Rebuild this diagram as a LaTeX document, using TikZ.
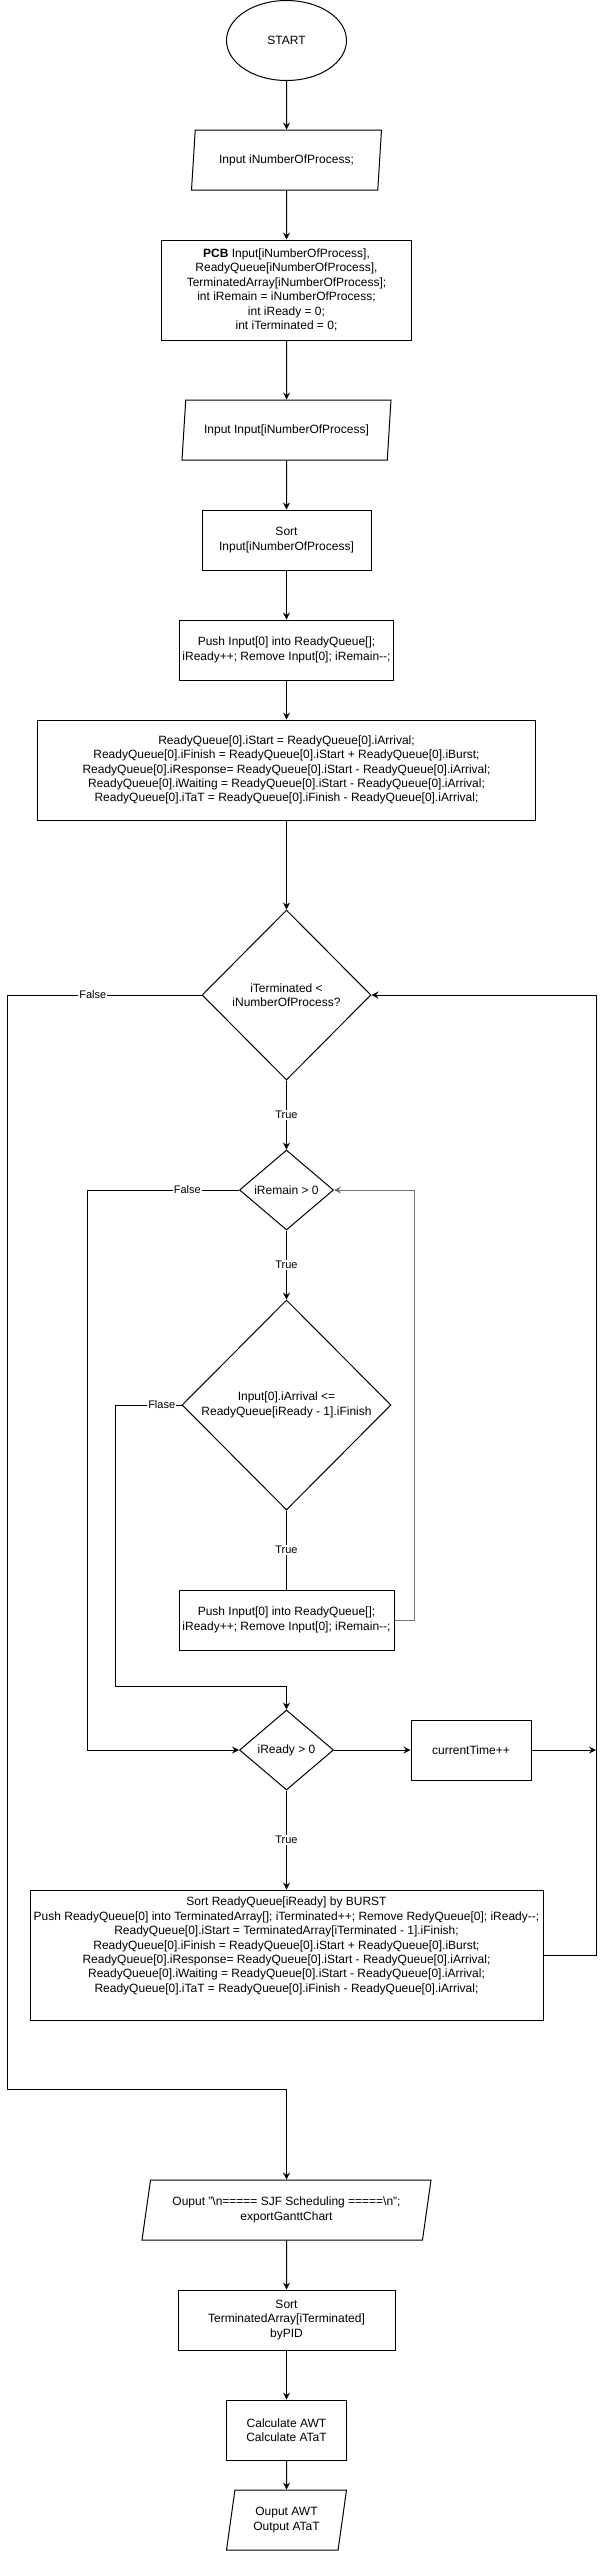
\documentclass[tikz,border=0pt]{standalone}
\usepackage{fontspec}
\setmainfont{Liberation Sans}
\usetikzlibrary{shapes.geometric,arrows.meta}

\tikzset{
  base/.style={draw, line width=1pt, align=center, inner sep=0pt, font=\fontsize{12}{14.4}\selectfont},
  proc/.style={base, rectangle},
  io/.style={base, trapezium, trapezium left angle=71.57, trapezium right angle=108.43,
    trapezium stretches body, minimum height=60pt},
  decision/.style={base, diamond},
  terminal/.style={base, ellipse},
  flow/.style={line width=1pt, -{Stealth[length=7pt,width=7pt,inset=2.5pt]}},
  plain/.style={line width=1pt},
  lbl/.style={fill=white, inner sep=1pt, font=\fontsize{11}{13}\selectfont}
}

\begin{document}
\begin{tikzpicture}[x=1pt,y=-1pt]
        \useasboundingbox (0,0) rectangle (606,2551);

        % Setup
        \node[terminal, minimum width=120pt, minimum height=80pt] (start) at (286.5,40.5) {START};
        \node[io, minimum width=190pt] (inN) at (286.5,160) {Input iNumberOfProcess;};
        \node[proc, minimum width=250pt, minimum height=100pt] (pcb) at (286.5,290)
          {\textbf{PCB} Input[iNumberOfProcess],\\ReadyQueue[iNumberOfProcess],\\TerminatedArray[iNumberOfProcess];\\int iRemain = iNumberOfProcess;\\int iReady = 0;\\int iTerminated = 0;};
        \node[io, minimum width=209pt] (inArr) at (286.5,430) {Input Input[iNumberOfProcess]};
        \node[proc, minimum width=169pt, minimum height=60pt] (sortIn) at (286.5,540) {Sort\\Input[iNumberOfProcess]};
        \node[proc, minimum width=214pt, minimum height=60pt] (pushFirst) at (286.5,650)
          {Push Input[0] into ReadyQueue[];\\iReady++; Remove Input[0]; iRemain-{}-;};
        \node[proc, minimum width=498pt, minimum height=100pt] (initFirst) at (286.5,770)
          {ReadyQueue[0].iStart = ReadyQueue[0].iArrival;\\
           ReadyQueue[0].iFinish = ReadyQueue[0].iStart + ReadyQueue[0].iBurst;\\
           ReadyQueue[0].iResponse= ReadyQueue[0].iStart - ReadyQueue[0].iArrival;\\
           ReadyQueue[0].iWaiting = ReadyQueue[0].iStart - ReadyQueue[0].iArrival;\\
           ReadyQueue[0].iTaT = ReadyQueue[0].iFinish - ReadyQueue[0].iArrival;};

        % Main loop
        \node[decision, minimum width=169pt, minimum height=170pt] (condTerm) at (286.5,995) {iTerminated <\\iNumberOfProcess?};
        \node[decision, minimum width=94pt, minimum height=80pt] (condRemain) at (286.5,1190) {iRemain > 0};
        \node[decision, minimum width=209pt, minimum height=210pt] (condArrival) at (286.5,1405)
          {Input[0].iArrival <=\\ReadyQueue[iReady - 1].iFinish};
        \node[proc, minimum width=215pt, minimum height=60pt] (pushNext) at (286.5,1620)
          {Push Input[0] into ReadyQueue[];\\iReady++; Remove Input[0]; iRemain-{}-;};
        \node[decision, minimum width=94pt, minimum height=80pt] (condReady) at (286.5,1750) {iReady > 0};
        \node[proc, minimum width=120pt, minimum height=60pt] (tick) at (471,1750) {currentTime++};
        \coordinate (tickEnd) at (596,1750);
        \node[proc, minimum width=513pt, minimum height=130pt] (runNext) at (286.5,1955)
          {Sort ReadyQueue[iReady] by BURST\\
           Push ReadyQueue[0] into TerminatedArray[]; iTerminated++; Remove RedyQueue[0]; iReady-{}-;\\
           ReadyQueue[0].iStart = TerminatedArray[iTerminated - 1].iFinish;\\
           ReadyQueue[0].iFinish = ReadyQueue[0].iStart + ReadyQueue[0].iBurst;\\
           ReadyQueue[0].iResponse= ReadyQueue[0].iStart - ReadyQueue[0].iArrival;\\
           ReadyQueue[0].iWaiting = ReadyQueue[0].iStart - ReadyQueue[0].iArrival;\\
           ReadyQueue[0].iTaT = ReadyQueue[0].iFinish - ReadyQueue[0].iArrival;\\[6pt]};

        % Results
        \node[io, minimum width=289pt] (outGantt) at (286.5,2210)
          {Ouput "\textbackslash n===== SJF Scheduling =====\textbackslash n";\\exportGanttChart};
        \node[proc, minimum width=217pt, minimum height=60pt] (sortPid) at (286.5,2320)
          {Sort\\TerminatedArray[iTerminated]\\byPID};
        \node[proc, minimum width=120pt, minimum height=60pt] (calc) at (286.5,2430) {Calculate AWT\\Calculate ATaT};
        \node[io, minimum width=120pt] (outAvg) at (286.5,2520) {Ouput AWT\\Output ATaT};

        % Straight arrows
        \draw[flow] (start.south) -- (inN.north);
        \draw[flow] (inN.south) -- (pcb.north);
        \draw[flow] (pcb.south) -- (inArr.north);
        \draw[flow] (inArr.south) -- (sortIn.north);
        \draw[flow] (sortIn.south) -- (pushFirst.north);
        \draw[flow] (pushFirst.south) -- (initFirst.north);
        \draw[flow] (initFirst.south) -- (condTerm.north);
        \draw[flow] (condTerm.south) -- node[lbl] {True} (condRemain.north);
        \draw[flow] (condRemain.south) -- node[lbl] {True} (condArrival.north);
        \draw[plain] (condArrival.south) -- node[lbl] {True} (pushNext.north);
        \draw[flow] (condReady.east) -- (tick.west);
        \draw[flow] (tick.east) -- (tickEnd);
        \draw[flow] (condReady.south) -- node[lbl] {True} (runNext.north);
        \draw[flow] (outGantt.south) -- (sortPid.north);
        \draw[flow] (sortPid.south) -- (calc.north);
        \draw[flow] (calc.south) -- (outAvg.north);

        % Loops and branches
        \draw[flow, draw=black!55] (pushNext.east) -- ++(20,0) |- (condRemain.east);
        \draw[flow] (condArrival.west) -- node[lbl, pos=0.3] {Flase} ++(-66,0) |- ([yshift=23pt]condReady.north) -- (condReady.north);
        \draw[flow] (condRemain.west) -- node[lbl, pos=0.34] {False} ++(-152,0) |- (condReady.west);
        \draw[flow] (runNext.east) -- ++(53,0) |- (condTerm.east);
        \draw[flow] (condTerm.west) -- node[lbl, pos=0.56] {False} ++(-194,0) |- ([yshift=90pt]outGantt.north) -- (outGantt.north);
    \end{tikzpicture}
\end{document}
